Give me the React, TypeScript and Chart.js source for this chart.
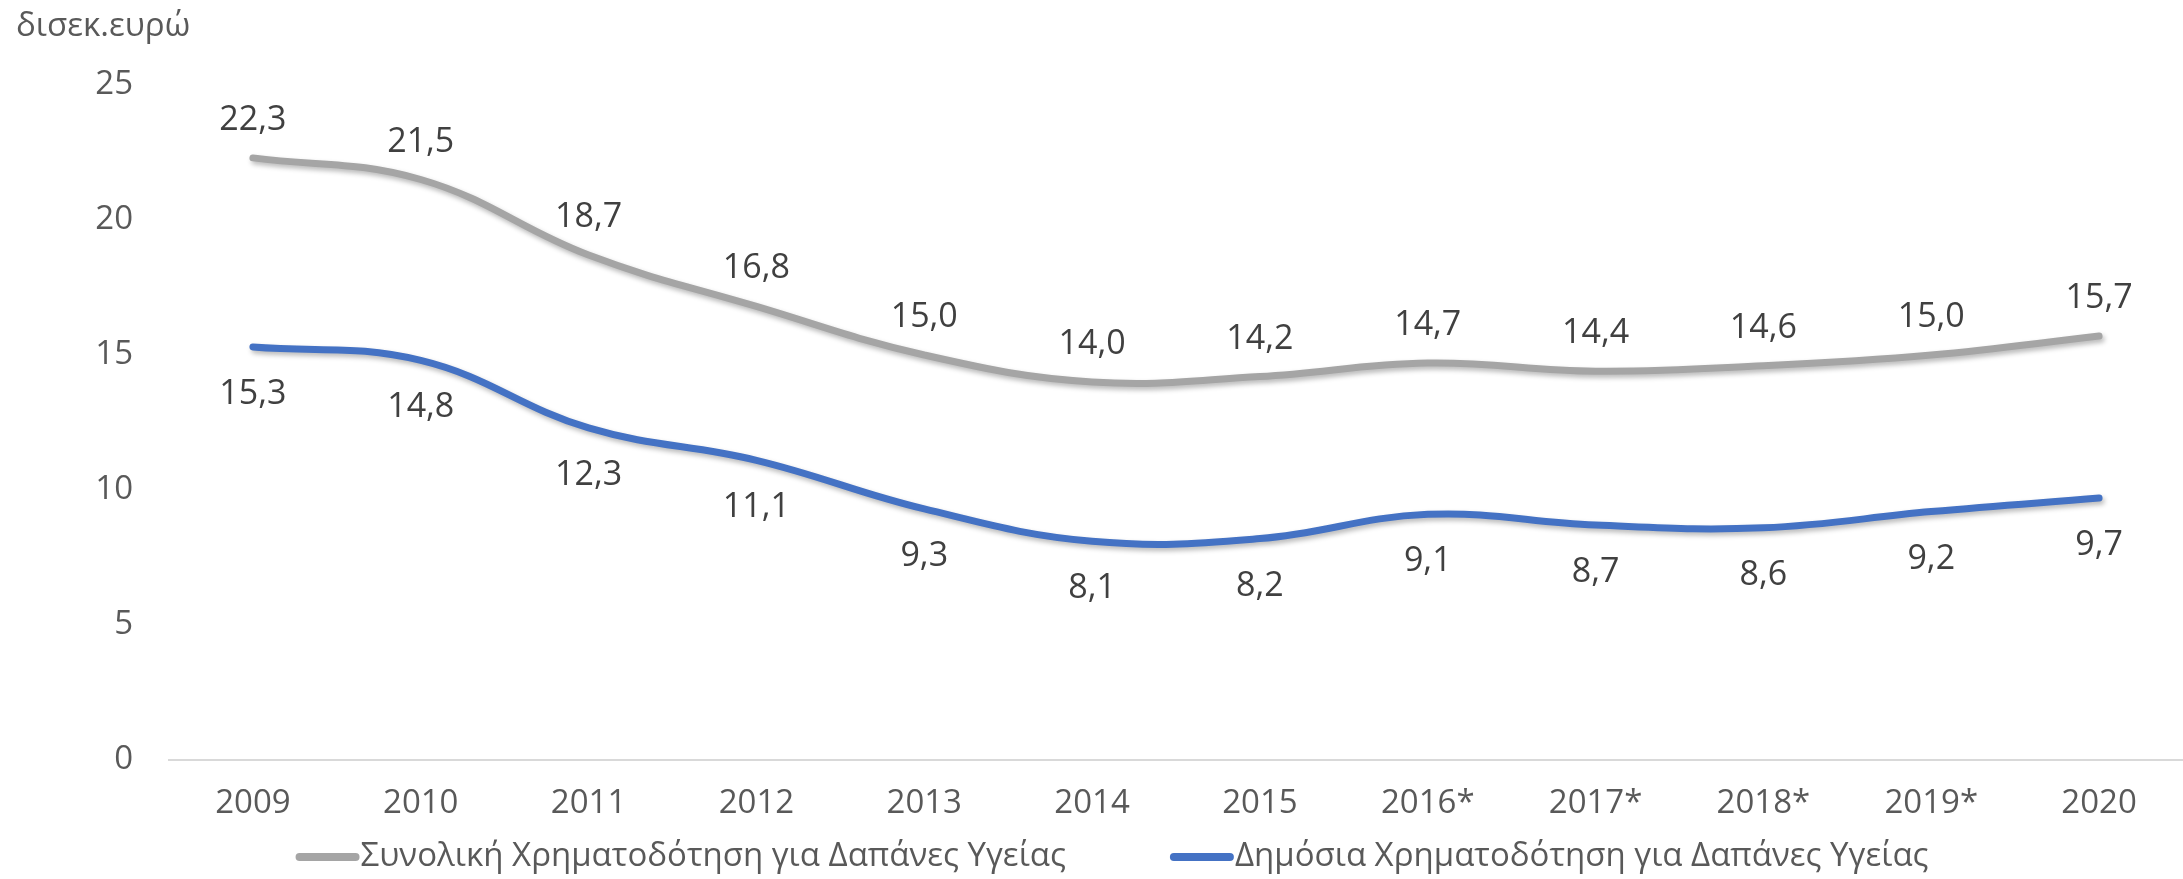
import React, { useEffect, useRef } from "react";
import { Chart, registerables } from "chart.js";

Chart.register(...registerables);

const categories = ["2009", "2010", "2011", "2012", "2013", "2014", "2015", "2016*", "2017*", "2018*", "2019*", "2020"];
const totalFunding = [22.3, 21.5, 18.7, 16.8, 15.0, 14.0, 14.2, 14.7, 14.4, 14.6, 15.0, 15.7];
const publicFunding = [15.3, 14.8, 12.3, 11.1, 9.3, 8.1, 8.2, 9.1, 8.7, 8.6, 9.2, 9.7];
const seriesNames = ["Συνολική Χρηματοδότηση για Δαπάνες Υγείας", "Δημόσια Χρηματοδότηση για Δαπάνες Υγείας"];
const yTitle = "δισεκ.ευρώ";

const FONT = "'Open Sans', 'Noto Sans', sans-serif";
const GREY = "#A5A5A5";
const BLUE = "#4472C4";

const fmt = (v: number) => v.toFixed(1).replace(".", ",");

const shadowPlugin = {
  id: "lineShadow",
  beforeDatasetsDraw(chart: any) {
    const ctx = chart.ctx;
    ctx.save();
    ctx.shadowColor = "rgba(0,0,0,0.28)";
    ctx.shadowBlur = 5;
    ctx.shadowOffsetX = 2;
    ctx.shadowOffsetY = 3;
  },
  afterDatasetsDraw(chart: any) {
    chart.ctx.restore();
  },
};

const labelsPlugin = {
  id: "valueLabels",
  afterDatasetsDraw(chart: any) {
    const ctx = chart.ctx;
    ctx.save();
    ctx.font = `34px ${FONT}`;
    ctx.fillStyle = "#404040";
    ctx.textAlign = "center";
    ctx.textBaseline = "alphabetic";
    chart.data.datasets.forEach((ds: any, di: number) => {
      const meta = chart.getDatasetMeta(di);
      meta.data.forEach((pt: any, i: number) => {
        const v = ds.data[i];
        const y = di === 0 ? pt.y - 28 : pt.y + 57;
        ctx.fillText(fmt(v), pt.x, y);
      });
    });
    ctx.restore();
  },
};

const decorPlugin = {
  id: "decor",
  afterDraw(chart: any) {
    const ctx = chart.ctx;
    ctx.save();
    // y title
    ctx.font = `33px ${FONT}`;
    ctx.fillStyle = "#595959";
    ctx.textAlign = "left";
    ctx.textBaseline = "alphabetic";
    ctx.fillText(yTitle, 16, 36);
    // legend
    const colors = [GREY, BLUE];
    const sample = 64;
    const gap = 1;
    const itemGap = 104;
    const widths = seriesNames.map((n) => ctx.measureText(n).width);
    const total = widths.reduce((a, b) => a + b, 0) + 2 * (sample + gap) + itemGap;
    let x = 1112 - total / 2;
    const yMid = 857;
    seriesNames.forEach((name, i) => {
      ctx.strokeStyle = colors[i];
      ctx.lineWidth = 8;
      ctx.lineCap = "round";
      ctx.beginPath();
      ctx.moveTo(x + 4, yMid);
      ctx.lineTo(x + sample - 4, yMid);
      ctx.stroke();
      ctx.fillStyle = "#595959";
      ctx.textBaseline = "middle";
      ctx.fillText(name, x + sample + gap, yMid);
      x += sample + gap + widths[i] + itemGap;
    });
    ctx.restore();
  },
};

export default function App() {
  const ref = useRef<HTMLCanvasElement | null>(null);
  useEffect(() => {
    document.body.style.margin = "0";
    const chart = new Chart(ref.current!, {
      type: "line",
      data: {
        labels: categories,
        datasets: [
          {
            label: seriesNames[0],
            data: totalFunding,
            borderColor: GREY,
            backgroundColor: GREY,
            borderWidth: 7,
            borderCapStyle: "round",
            tension: 0.4,
            pointRadius: 0,
            fill: false,
          },
          {
            label: seriesNames[1],
            data: publicFunding,
            borderColor: BLUE,
            backgroundColor: BLUE,
            borderWidth: 7,
            borderCapStyle: "round",
            tension: 0.4,
            pointRadius: 0,
            fill: false,
          },
        ],
      },
      options: {
        animation: false,
        responsive: false,
        maintainAspectRatio: false,
        layout: { padding: { top: 85, bottom: 46, left: 0, right: 0 } },
        plugins: {
          legend: { display: false },
          title: { display: false },
          tooltip: { enabled: false },
        },
        scales: {
          x: {
            offset: true,
            grid: { display: false, drawTicks: false },
            border: { display: true, color: "#D9D9D9", width: 2 },
            ticks: {
              color: "#595959",
              font: { family: FONT, size: 33 },
              padding: 24,
              maxRotation: 0,
              autoSkip: false,
            },
            afterFit: (s: any) => {
              s.height = 73;
            },
          },
          y: {
            min: 0,
            max: 25,
            grid: { display: false, drawTicks: false },
            border: { display: false },
            ticks: {
              stepSize: 5,
              color: "#595959",
              font: { family: FONT, size: 33 },
              padding: 36,
            },
            afterFit: (s: any) => {
              s.width = 169;
            },
          },
        },
      },
      plugins: [shadowPlugin, labelsPlugin, decorPlugin],
    });
    return () => chart.destroy();
  }, []);
  return (
    <div style={{ position: "fixed", left: 0, top: 0, width: 2183, height: 879, background: "#fff" }}>
      <canvas ref={ref} width={2183} height={879} style={{ width: 2183, height: 879 }} />
    </div>
  );
}
